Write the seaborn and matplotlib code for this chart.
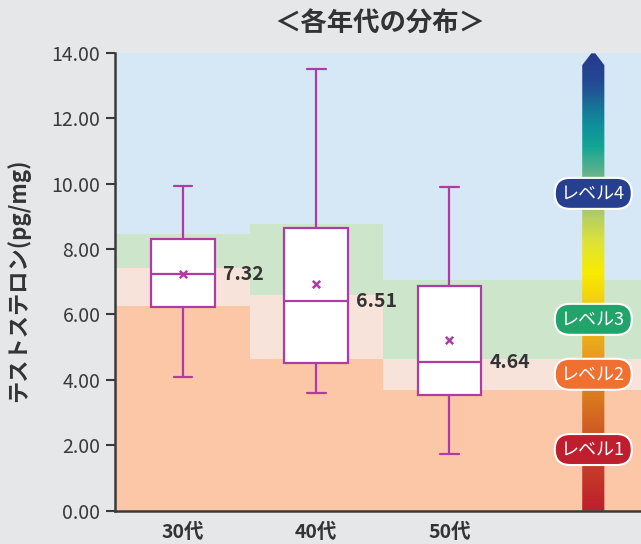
import numpy as np
import pandas as pd
import matplotlib
matplotlib.use("Agg")
import matplotlib.pyplot as plt
from matplotlib.colors import LinearSegmentedColormap
from matplotlib.patches import Polygon
import seaborn as sns

# data
groups = ["30代", "40代", "50代"]
whis_lo = [4.10, 3.61, 1.73]
q1 = [6.24, 4.52, 3.53]
median = [7.23, 6.41, 4.54]
q3 = [8.30, 8.65, 6.87]
whis_hi = [9.92, 13.50, 9.88]
means = [7.23, 6.92, 5.21]
median_labels = ["7.32", "6.51", "4.64"]

# background level bands per age group (upper bound of each level)
level1_top = [6.27, 4.63, 3.70]
level2_top = [7.42, 6.58, 4.63]
level3_top = [8.45, 8.77, 7.05]

level_names = ["レベル1", "レベル2", "レベル3", "レベル4"]
level_pos = [1.87, 4.17, 5.85, 9.70]
level_colors = ["#bf1e2e", "#f07032", "#22a36a", "#263f8e"]

yticks = [0, 2, 4, 6, 8, 10, 12, 14]

BOX = "#ae3ca4"
TXT = "#333333"

sns.set_style("white")
plt.rcParams["font.family"] = ["Noto Sans CJK JP", "DejaVu Sans"]

fig = plt.figure(figsize=(6.41, 5.44), dpi=100)
fig.patch.set_facecolor("#e6e7e9")
ax = fig.add_axes([115 / 641, 33.3 / 544, 526 / 641, 458 / 544])
ax.set_facecolor("#d6e8f5")

xmax = 3.437
xmin = -0.51

# level bands: one segment per group, the last one runs to the right edge
lefts = [xmin, 0.5, 1.5]
widths = [0.5 - xmin, 1.0, xmax - 1.5]
ax.bar(lefts, level3_top, width=widths, align="edge", color="#cde6cb", zorder=0.3, linewidth=0)
ax.bar(lefts, level2_top, width=widths, align="edge", color="#f8e3da", zorder=0.4, linewidth=0)
ax.bar(lefts, level1_top, width=widths, align="edge", color="#fbc7a7", zorder=0.5, linewidth=0)

# boxes from the five-number summaries
rows = []
for g, a, b, c, d, e in zip(groups, whis_lo, q1, median, q3, whis_hi):
    for v in (a, b, c, d, e):
        rows.append({"group": g, "value": v})
df = pd.DataFrame(rows)

sns.boxplot(data=df, x="group", y="value", order=groups, whis=(0, 100),
            width=0.48, color="white", linecolor=BOX, linewidth=1.6,
            capwidths=0.14, ax=ax)
for art in ax.patches[-3:]:
    art.set_facecolor("white")

sns.scatterplot(x=[0, 1, 2], y=means, marker="x", s=28, color=BOX,
                linewidth=1.8, ax=ax, zorder=5)

for i, (m, lab) in enumerate(zip(median, median_labels)):
    ax.text(i + 0.24 + 0.06, m, lab, ha="left", va="center", fontsize=14,
            fontweight="bold", color=TXT, zorder=6)

# level gradient arrow
cx, hw = 3.079, 0.083
stops = [(0.0, "#be1e2d"), (1.85, "#c94a26"), (3.38, "#d9761f"), (4.9, "#e9a21e"),
         (6.44, "#f4cf10"), (7.3, "#f9ec00"), (8.27, "#dde23a"), (9.1, "#b0cc66"),
         (10.25, "#6ab58a"), (11.17, "#12a594"), (11.93, "#0d8c9a"),
         (12.55, "#1b6a96"), (13.16, "#244894"), (14.0, "#243b8d")]
cmap = LinearSegmentedColormap.from_list("lv", [(v / 14.0, c) for v, c in stops])
grad = np.linspace(0, 1, 400).reshape(-1, 1)
im = ax.imshow(grad, cmap=cmap, origin="lower", aspect="auto",
               extent=[cx - hw, cx + hw, 0, 14], zorder=3)
clip = Polygon([(cx - hw, 0), (cx + hw, 0), (cx + hw, 13.62), (cx + 0.015, 13.98),
                (cx - 0.015, 13.98), (cx - hw, 13.62)], closed=True,
               transform=ax.transData, facecolor="none", edgecolor="none")
ax.add_patch(clip)
im.set_clip_path(clip)

for name, y, c in zip(level_names, level_pos, level_colors):
    ax.text(cx, y, name, ha="center", va="center", fontsize=13,
            color="white", zorder=7,
            bbox=dict(boxstyle="round,pad=0.36,rounding_size=0.85", fc=c,
                      ec="white", lw=1.5))

ax.set_xlim(xmin, xmax)
ax.set_ylim(0, 14)
ax.set_yticks(yticks)
ax.set_yticklabels([f"{t:.2f}" for t in yticks])
ax.set_xlabel("")
ax.set_ylabel("")

for s in ("top", "right"):
    ax.spines[s].set_visible(False)
for s in ("left", "bottom"):
    ax.spines[s].set_color("#3a3a3a")
    ax.spines[s].set_linewidth(1.8)
    ax.spines[s].set_zorder(8)

ax.tick_params(axis="y", direction="out", length=6.5, width=1.5, color="#3a3a3a",
               pad=4, labelsize=14, labelcolor="#3a3a3a", left=True)
ax.tick_params(axis="x", length=0, pad=9, labelsize=14, labelcolor=TXT)
for lab in ax.get_xticklabels():
    lab.set_fontweight("bold")

fig.text(380 / 641, 1 - 24 / 544, "＜各年代の分布＞", ha="center", va="center",
         fontsize=19, fontweight="bold", color=TXT)
fig.text(18 / 641, 1 - 280 / 544, "テストステロン(pg/mg)", ha="center", va="center",
         rotation=90, fontsize=16, fontweight="bold", color=TXT)

fig.savefig("out.png", dpi=100, facecolor=fig.get_facecolor())
